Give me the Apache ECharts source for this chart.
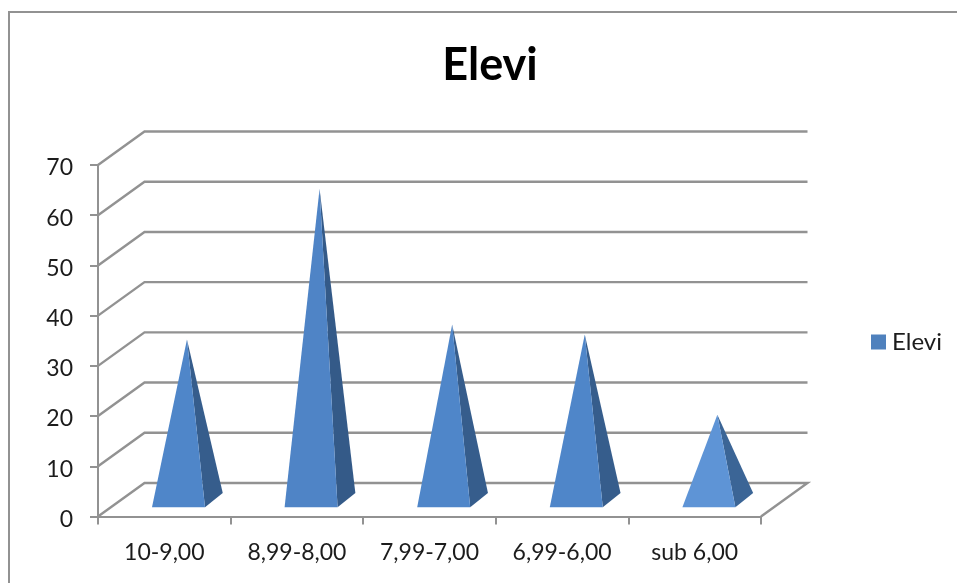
<!DOCTYPE html>
<html>
<head>
<meta charset="utf-8">
<style>html,body{margin:0;padding:0;background:#fff}#c{width:957px;height:583px}</style>
<script src="https://cdn.jsdelivr.net/npm/echarts@6/dist/echarts.min.js"></script>
</head>
<body>
<div id="c"></div>
<script>
var categories = ['10-9,00', '8,99-8,00', '7,99-7,00', '6,99-6,00', 'sub 6,00'];
var values = [32, 62, 35, 33, 17];
var yTicks = [0, 10, 20, 30, 40, 50, 60, 70];
var seriesName = 'Elevi';

var frontColors = ['#4f86c9', '#4f84c6', '#4f86c9', '#4f86c9', '#5e94d6'];
var sideColors = ['#365d8c', '#345a88', '#365d8c', '#365d8c', '#3b6596'];
var FONT = 'Lato';
var GREY = '#929292';
var TEXT = '#1c1c1c';
var DEPTH_X = 46.5, DEPTH_Y = 33.5;

function renderWall(params, api) {
  var p = api.coord([0, api.value(1)]);
  var cs = params.coordSys;
  var x0 = cs.x, x1 = cs.x + cs.width, y = p[1];
  var pts = [[x0, y], [x0 + DEPTH_X, y - DEPTH_Y], [x1 + DEPTH_X, y - DEPTH_Y]];
  if (api.value(1) === 0) pts.push([x1, y]);
  return {
    type: 'polyline', z2: 0, silent: true,
    shape: { points: pts },
    style: { fill: 'none', stroke: GREY, lineWidth: 2.4 }
  };
}

function renderPyramid(params, api) {
  var idx = api.value(0);
  var base = api.coord([idx, 0]);
  var top = api.coord([idx, api.value(1)]);
  var half = 26.5;
  var frontDepth = 0.275, backDepth = 0.7, midDepth = 0.4875;
  var cx = base[0] + midDepth * DEPTH_X;
  var by = base[1];
  var apex = [cx, top[1] - midDepth * DEPTH_Y];
  var fcx = base[0] + frontDepth * DEPTH_X + 1.4;
  var fy = by - frontDepth * DEPTH_Y;
  var bcx = base[0] + backDepth * DEPTH_X - 0.6;
  var byb = by - backDepth * DEPTH_Y;
  var fl = [fcx - half, fy], fr = [fcx + half, fy], br = [bcx + half, byb];
  return {
    type: 'group',
    children: [
      { type: 'polygon', shape: { points: [apex, fr, br] },
        style: { fill: sideColors[idx] } },
      { type: 'polygon', shape: { points: [apex, fl, fr] },
        style: { fill: frontColors[idx] } }
    ]
  };
}

var chart = echarts.init(document.getElementById('c'), null, { renderer: 'canvas' });
chart.setOption({
  animation: false,
  backgroundColor: '#ffffff',
  graphic: [{
    type: 'rect', silent: true, z: -10,
    shape: { x: 9, y: 12, width: 1000, height: 700 },
    style: { fill: 'none', stroke: GREY, lineWidth: 2 }
  }],
  title: {
    text: seriesName, left: 485, top: 38, textAlign: 'center',
    textStyle: { fontFamily: FONT, fontWeight: 'bold', fontSize: 45, color: '#000' }
  },
  legend: {
    data: [seriesName], left: 866, top: 325, itemWidth: 15, itemHeight: 15, itemGap: 0,
    icon: 'rect', selectedMode: false,
    textStyle: { fontFamily: FONT, fontSize: 24, color: TEXT, padding: [0, 0, 0, 1] },
    itemStyle: { color: '#4f81bd' }
  },
  grid: { left: 98, right: 196, top: 165, bottom: 66.5, containLabel: false },
  xAxis: {
    type: 'category', data: categories, boundaryGap: true,
    axisLine: { lineStyle: { color: GREY, width: 2 } },
    axisTick: { show: true, length: 8, lineStyle: { color: GREY, width: 2 } },
    axisLabel: { fontFamily: FONT, fontSize: 23, color: TEXT, margin: 25, interval: 0 },
    splitLine: { show: false }
  },
  yAxis: {
    type: 'value', min: 0, max: 70, interval: 10,
    axisLine: { show: true, lineStyle: { color: GREY, width: 2 } },
    axisTick: { show: true, length: 8, lineStyle: { color: GREY, width: 2 } },
    axisLabel: {
      margin: 25,
      formatter: '{t|{value}}',
      rich: { t: { fontFamily: FONT, fontSize: 23, color: TEXT, padding: [6, 0, 0, 0] } }
    },
    splitLine: { show: false }
  },
  series: [
    { name: 'wall', type: 'custom', silent: true, z: 1, clip: false,
      renderItem: renderWall,
      data: yTicks.map(function (v) { return [0, v]; }),
      encode: { x: 0, y: 1 } },
    { name: seriesName, type: 'custom', silent: true, z: 3, clip: false,
      renderItem: renderPyramid,
      itemStyle: { color: '#4f81bd' },
      data: values.map(function (v, i) { return [i, v]; }),
      encode: { x: 0, y: 1 } }
  ]
});
</script>
</body>
</html>
